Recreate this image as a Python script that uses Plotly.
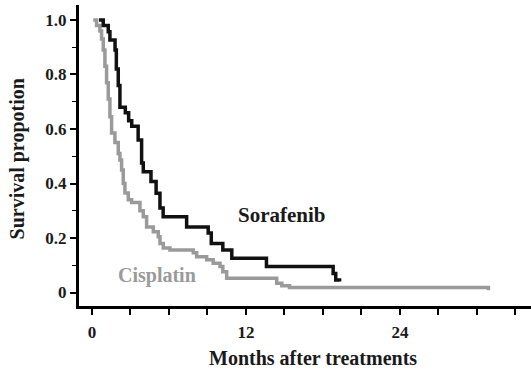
import plotly.graph_objects as go

# Kaplan-Meier step data (months, survival proportion)
sorafenib_t = [0.55, 0.88, 1.27, 1.4, 1.8, 1.9, 2.05, 2.18, 2.6, 2.86, 3.1, 3.6, 3.87, 4.0, 4.6,
               5.0, 5.3, 5.55, 7.38, 9.06, 9.3, 10.2, 10.9, 13.6, 18.8, 19.0, 19.3]
sorafenib_s = [1.0, 0.98, 0.957, 0.927, 0.89, 0.82, 0.76, 0.68, 0.66, 0.63, 0.61, 0.56, 0.475, 0.443, 0.407,
               0.364, 0.31, 0.278, 0.24, 0.218, 0.18, 0.156, 0.126, 0.095, 0.07, 0.046, 0.04]

cisplatin_t = [0.1, 0.36, 0.62, 0.75, 0.88, 1.01, 1.14, 1.27, 1.4, 1.53, 1.79, 2.05, 2.18, 2.31, 2.44,
               2.57, 2.83, 3.09, 3.74, 4.0, 4.26, 4.78, 5.17, 5.3, 5.56, 6.08, 7.9, 8.16, 8.94, 9.45,
               9.98, 10.2, 10.5, 14.4, 14.8, 15.4, 30.9]
cisplatin_s = [1.0, 0.98, 0.96, 0.93, 0.89, 0.83, 0.77, 0.71, 0.645, 0.585, 0.55, 0.51, 0.486, 0.45, 0.40,
               0.365, 0.34, 0.33, 0.30, 0.278, 0.24, 0.223, 0.205, 0.18, 0.163, 0.156, 0.146, 0.131, 0.12, 0.107,
               0.095, 0.076, 0.052, 0.034, 0.025, 0.018, 0.008]

y_tick_vals = [0, 0.2, 0.4, 0.6, 0.8, 1.0]
y_tick_text = ["0", "0.2", "0.4", "0.6", "0.8", "1.0"]
x_tick_vals = [0, 12, 24]
x_tick_text = ["0", "12", "24"]

FONT = "Liberation Serif"
GRAY = "#9a9a9a"
DARK = "#1a1a1a"

fig = go.Figure()
fig.add_trace(go.Scatter(x=cisplatin_t, y=cisplatin_s, mode="lines", line_shape="hv",
                         line=dict(color=GRAY, width=3.5), name="Cisplatin", showlegend=False))
fig.add_trace(go.Scatter(x=sorafenib_t, y=sorafenib_s, mode="lines", line_shape="hv",
                         line=dict(color="#111111", width=3.5), name="Sorafenib", showlegend=False))

fig.add_annotation(x=14.85, y=0.283, text="Sorafenib", showarrow=False,
                   font=dict(family=FONT, size=21, color=DARK, weight="bold"))
fig.add_annotation(x=5.1, y=0.061, text="Cisplatin", showarrow=False,
                   font=dict(family=FONT, size=20, color=GRAY, weight="bold"))

# axis titles placed as annotations in paper coordinates
fig.add_annotation(xref="paper", yref="paper", x=0.518, y=-0.173, text="Months after treatments",
                   showarrow=False, xanchor="center", yanchor="middle",
                   font=dict(family=FONT, size=20, color=DARK, weight="bold"))
fig.add_annotation(xref="paper", yref="paper", x=-0.135, y=0.49, text="Survival propotion",
                   showarrow=False, textangle=-90, xanchor="center", yanchor="middle",
                   font=dict(family=FONT, size=20, color=DARK, weight="bold"))

fig.update_layout(
    width=531, height=372,
    margin=dict(l=79, r=0, t=5, b=66),
    paper_bgcolor="white", plot_bgcolor="white",
    font=dict(family=FONT, color=DARK),
    xaxis=dict(range=[-1.01, 34.22], showgrid=False, zeroline=False,
               showline=True, linecolor="black", linewidth=3,
               tickvals=x_tick_vals, ticktext=x_tick_text,
               ticks="outside", ticklen=6, tickwidth=2, tickcolor="black",
               minor=dict(dtick=3, tick0=0, ticks="outside", ticklen=6, tickwidth=2, tickcolor="black", showgrid=False),
               tickfont=dict(family=FONT, size=17, weight="bold"), ticklabelstandoff=3),
    yaxis=dict(range=[-0.0495, 1.055], showgrid=False, zeroline=False,
               showline=True, linecolor="black", linewidth=3,
               tickvals=y_tick_vals, ticktext=y_tick_text,
               ticks="outside", ticklen=6, tickwidth=2, tickcolor="black",
               minor=dict(dtick=0.1, tick0=0, ticks="outside", ticklen=4, tickwidth=1, tickcolor="black", showgrid=False),
               tickfont=dict(family=FONT, size=17, weight="bold")),
)

fig.write_html("out.html")
